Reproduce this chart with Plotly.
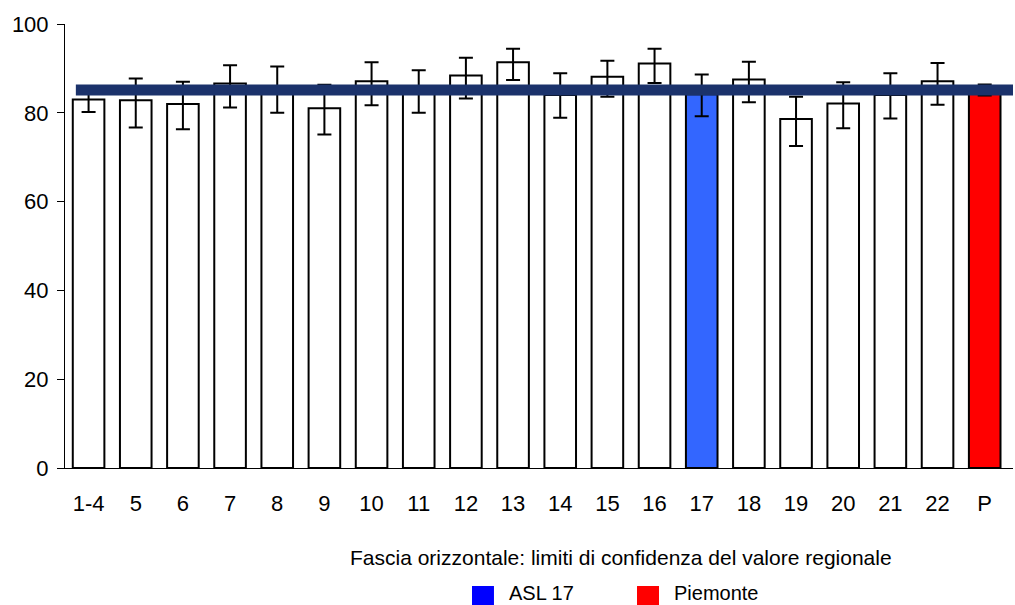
import plotly.graph_objects as go

# Percent values by ASL with 95% confidence limits
categories = ["1-4", "5", "6", "7", "8", "9", "10", "11", "12", "13",
              "14", "15", "16", "17", "18", "19", "20", "21", "22", "P"]
values = [83.0, 82.8, 82.0, 86.6, 85.2, 81.0, 87.1, 84.8, 88.4, 91.4,
          84.0, 88.1, 91.1, 84.2, 87.5, 78.6, 82.1, 84.0, 87.1, 85.2]
ci_upper = [85.8, 87.7, 87.0, 90.7, 90.4, 86.3, 91.4, 89.6, 92.4, 94.4,
            88.9, 91.7, 94.4, 88.6, 91.5, 83.6, 86.9, 88.9, 91.2, 86.4]
ci_lower = [80.2, 76.7, 76.3, 81.2, 80.0, 75.1, 81.7, 80.0, 83.2, 87.4,
            78.9, 83.6, 86.7, 79.2, 82.4, 72.5, 76.5, 78.7, 81.8, 83.9]

highlight_asl = "17"
region_label = "P"
y_ticks = [0, 20, 40, 60, 80, 100]

# Regional confidence band comes from the Piemonte limits
reg_idx = categories.index(region_label)
band_low, band_high = ci_lower[reg_idx], ci_upper[reg_idx]

colors = []
for c in categories:
    if c == highlight_asl:
        colors.append("#3366FF")
    elif c == region_label:
        colors.append("#FF0000")
    else:
        colors.append("#FFFFFF")

err_plus = [u - v for u, v in zip(ci_upper, values)]
err_minus = [v - l for v, l in zip(values, ci_lower)]

FONT = "Liberation Sans, Arial, sans-serif"

fig = go.Figure()
fig.add_trace(go.Bar(
    x=categories,
    y=values,
    marker=dict(color=colors, line=dict(color="#000000", width=2)),
    error_y=dict(type="data", symmetric=False, array=err_plus,
                 arrayminus=err_minus, color="#000000",
                 thickness=2, width=7),
    showlegend=False,
    hoverinfo="x+y",
))

# Horizontal band: confidence limits of the regional value
fig.add_shape(type="rect", xref="x", yref="y",
              x0=-0.27, x1=19.6, y0=band_low, y1=band_high,
              fillcolor="#1B326B", line=dict(width=0), layer="above")

# Caption and colour key under the chart
fig.add_annotation(text="Fascia orizzontale: limiti di confidenza del valore regionale",
                   xref="paper", yref="paper", x=0.5865, y=-0.2005,
                   xanchor="center", yanchor="middle", showarrow=False,
                   font=dict(family=FONT, size=21, color="#000000"))

key_items = [("ASL 17", "#0000FF", 0.4293), ("Piemonte", "#FF0000", 0.6034)]
for label, col, x0 in key_items:
    fig.add_shape(type="rect", xref="paper", yref="paper",
                  x0=x0, x1=x0 + 0.0232, y0=-0.2658, y1=-0.32,
                  fillcolor=col, line=dict(width=0))
    fig.add_annotation(text=label, xref="paper", yref="paper",
                       x=x0 + 0.038, y=-0.281, xanchor="left", yanchor="middle",
                       showarrow=False, borderpad=0,
                       font=dict(family=FONT, size=20, color="#000000"))

fig.update_layout(
    width=1015, height=605,
    margin=dict(l=65, r=2, t=24, b=137),
    paper_bgcolor="#FFFFFF", plot_bgcolor="#FFFFFF",
    bargap=0.33,
    font=dict(family=FONT, size=22, color="#000000"),
)
fig.update_xaxes(
    type="category",
    showgrid=False, zeroline=False,
    showline=True, linecolor="#000000", linewidth=1,
    ticks="", ticklabelstandoff=16,
    tickfont=dict(family=FONT, size=22, color="#000000"),
)
fig.update_yaxes(
    range=[0, 100], tickvals=y_ticks,
    showgrid=False, zeroline=False,
    showline=True, linecolor="#000000", linewidth=1,
    ticks="outside", ticklen=7, tickcolor="#000000", tickwidth=1,
    ticklabelstandoff=4,
    tickfont=dict(family=FONT, size=22, color="#000000"),
)

fig.write_html("out.html")
